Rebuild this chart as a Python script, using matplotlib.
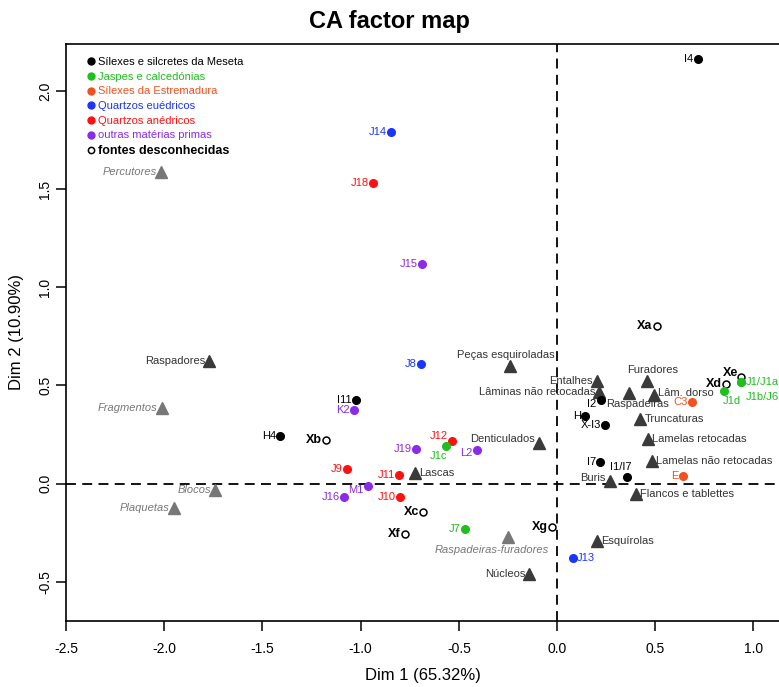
import matplotlib.pyplot as plt
from matplotlib.lines import Line2D

plt.rcParams["font.family"] = ["Liberation Sans", "DejaVu Sans"]

# row points (raw material groups)
row_names = ["I4", "I11", "K2", "H4", "Xb", "J12", "J1c", "J19", "L2", "J9", "J11",
             "M1", "J16", "J10", "Xc", "Xf", "J7", "Xg", "J13", "J14", "J18", "J15",
             "J8", "I2", "H", "X-I3", "I7", "I1/I7", "E", "C3", "Xa", "Xd", "Xe",
             "J1/J1a", "J1b/J6", "J1d"]
row_x = [0.716, -1.023, -1.032, -1.410, -1.176, -0.533, -0.564, -0.717, -0.407, -1.069, -0.806,
         -0.962, -1.086, -0.799, -0.681, -0.774, -0.468, -0.027, 0.080, -0.844, -0.938, -0.687,
         -0.692, 0.222, 0.143, 0.244, 0.219, 0.355, 0.642, 0.686, 0.508, 0.860, 0.938,
         0.938, 0.938, 0.850]
row_y = [2.164, 0.424, 0.375, 0.244, 0.221, 0.216, 0.190, 0.178, 0.170, 0.075, 0.046,
         -0.010, -0.068, -0.068, -0.144, -0.255, -0.231, -0.222, -0.380, 1.791, 1.534, 1.117,
         0.609, 0.428, 0.346, 0.299, 0.110, 0.034, 0.037, 0.416, 0.804, 0.508, 0.543,
         0.518, 0.518, 0.472]
row_group = ["mes", "mes", "out", "mes", "unk", "ane", "jas", "out", "out", "ane", "ane",
             "out", "out", "ane", "unk", "unk", "jas", "unk", "euh", "euh", "ane", "out",
             "euh", "mes", "mes", "mes", "mes", "mes", "est", "est", "unk", "unk", "unk",
             "jas", "jas", "jas"]

# column points (artefact types); sup = supplementary
col_names = ["Percutores", "Raspadores", "Fragmentos", "Blocos", "Plaquetas",
             "Peças esquiroladas", "Entalhes", "Lâminas não retocadas", "Furadores",
             "Raspadeiras", "Lâm. dorso", "Truncaturas", "Lamelas retocadas",
             "Lamelas não retocadas", "Buris", "Flancos e tablettes", "Denticulados",
             "Lascas", "Raspadeiras-furadores", "Núcleos", "Esquírolas"]
col_x = [-2.018, -1.770, -2.013, -1.740, -1.950, -0.239, 0.202, 0.216, 0.460, 0.368,
         0.495, 0.423, 0.462, 0.484, 0.270, 0.402, -0.093, -0.725, -0.248, -0.141, 0.204]
col_y = [1.587, 0.625, 0.384, -0.031, -0.126, 0.597, 0.521, 0.467, 0.521, 0.462,
         0.453, 0.329, 0.228, 0.114, 0.012, -0.052, 0.207, 0.054, -0.273, -0.463, -0.295]
col_sup = [True, False, True, True, True, False, False, False, False, False,
           False, False, False, False, False, False, False, False, True, False, False]

groups = ["mes", "jas", "est", "euh", "ane", "out", "unk"]
group_labels = ["Sílexes e silcretes da Meseta", "Jaspes e calcedónias",
                "Sílexes da Estremadura", "Quartzos euédricos", "Quartzos anédricos",
                "outras matérias primas", "fontes desconhecidas"]
group_colors = {"mes": "black", "jas": "#1FBF1F", "est": "#F2501E", "euh": "#1A35FF",
                "ane": "#FF1010", "out": "#8A2BE8", "unk": "black"}

# label placement: (dx pt, dy pt, ha); default is left of the point
label_pos = {
    "J12": (-3, 4, "right"), "J1c": (1, -7, "right"), "L2": (-3, -2, "right"),
    "M1": (-3, -3, "right"), "J13": (3, 0, "left"), "I2": (-3, -3, "right"),
    "I1/I7": (-4, 7, "center"), "Xe": (-2, 3, "right"), "J1/J1a": (3, 0, "left"),
    "J1b/J6": (3, -11, "left"), "J1d": (-1, -7, "left"),
    "Peças esquiroladas": (-3, 8, "center"), "Furadores": (4, 8, "center"),
    "Raspadeiras": (6, -8, "center"), "Lâm. dorso": (3, 1, "left"),
    "Truncaturas": (3, 0, "left"), "Lamelas retocadas": (3, 0, "left"),
    "Lamelas não retocadas": (3, 0, "left"), "Flancos e tablettes": (3, 0, "left"),
    "Denticulados": (-3, 3, "right"), "Lascas": (3, 0, "left"),
    "Buris": (-3, 2, "right"), "Raspadeiras-furadores": (-12, -9, "center"),
    "Esquírolas": (3, 0, "left"),
}


def place_label(ax, name, x, y, color, **kw):
    dx, dy, ha = label_pos.get(name, (-3, 0, "right"))
    ax.annotate(name, (x, y), xytext=(dx, dy), textcoords="offset points",
                ha=ha, va="center", color=color, **kw)


def main() -> None:
    fig = plt.figure(figsize=(7.79, 6.87), dpi=100)
    ax = fig.add_axes([0.0847, 0.0961, 0.9153, 0.8399])
    ax.set_xlim(-2.5, 1.13)
    ax.set_ylim(-0.70, 2.24)

    ax.axhline(0, color="black", lw=1.3, ls=(0, (5.5, 3.5)), zorder=1)
    ax.axvline(0, color="black", lw=1.3, ls=(0, (5.5, 3.5)), zorder=1)

    # column points
    for name, x, y, sup in zip(col_names, col_x, col_y, col_sup):
        mc = "#777777" if sup else "#3a3a3a"
        ax.plot(x, y, marker="^", ms=8, color=mc, ls="none", zorder=3)
        if sup:
            place_label(ax, name, x, y, "#777777", fontsize=8, style="italic")
        else:
            place_label(ax, name, x, y, "#333333", fontsize=8)

    # row points
    for name, x, y, g in zip(row_names, row_x, row_y, row_group):
        c = group_colors[g]
        if g == "unk":
            ax.plot(x, y, marker="o", ms=5, mfc="white", mec="black", mew=1.1,
                    ls="none", zorder=4)
            place_label(ax, name, x, y, "black", fontsize=9, fontweight="bold")
        else:
            ax.plot(x, y, marker="o", ms=5.5, color=c, ls="none", zorder=4)
            place_label(ax, name, x, y, c, fontsize=8)

    handles = []
    for g, lab in zip(groups, group_labels):
        if g == "unk":
            h = Line2D([], [], marker="o", ms=4.5, mfc="white", mec="black", mew=1.1, ls="none")
        else:
            h = Line2D([], [], marker="o", ms=5, color=group_colors[g], ls="none")
        handles.append(h)
    leg = ax.legend(handles, group_labels, loc="upper left", bbox_to_anchor=(0.024, 0.985),
                    frameon=False, fontsize=8, handlelength=0.6, handletextpad=0.3,
                    labelspacing=0.42, borderaxespad=0, labelcolor="markeredgecolor")
    leg.get_texts()[-1].set_fontweight("bold")
    leg.get_texts()[-1].set_fontsize(9)

    ax.spines["right"].set_visible(False)
    for s in ["left", "bottom", "top"]:
        ax.spines[s].set_linewidth(1.2)
    ax.set_xticks([-2.5, -2.0, -1.5, -1.0, -0.5, 0.0, 0.5, 1.0])
    ax.set_yticks([-0.5, 0.0, 0.5, 1.0, 1.5, 2.0])
    ax.set_xticklabels([f"{v:.1f}" for v in ax.get_xticks()])
    ax.set_yticklabels([f"{v:.1f}" for v in ax.get_yticks()], rotation=90, va="center")
    ax.tick_params(direction="out", length=7, width=1.1, labelsize=10)
    ax.tick_params(axis="x", pad=8)
    ax.tick_params(axis="y", pad=3)
    ax.set_xlabel("Dim 1 (65.32%)", fontsize=12, labelpad=9)
    ax.set_ylabel("Dim 2 (10.90%)", fontsize=12, labelpad=10)
    fig.suptitle("CA factor map", fontsize=17, fontweight="bold", y=0.985)

    fig.savefig("out.png", dpi=100)


if __name__ == "__main__":
    main()
